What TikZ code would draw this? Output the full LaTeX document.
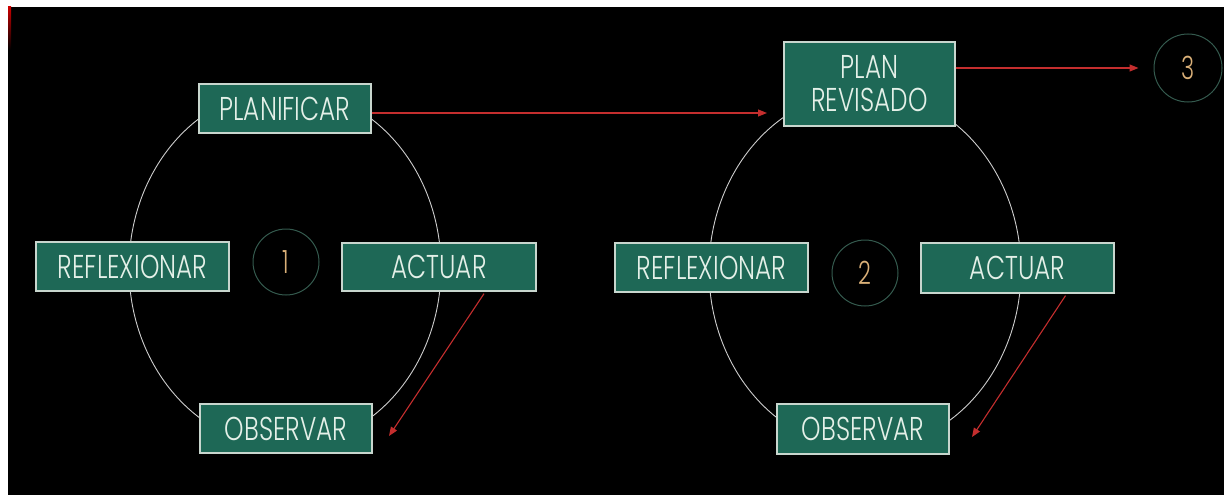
\documentclass[tikz,border=0pt]{standalone}
\usepackage{fontspec}
\usetikzlibrary{arrows.meta}
\newfontfamily\boxfont[FakeStretch=0.75,UprightFont=* Light]{Poppins}
\newfontfamily\numfont[FakeStretch=0.7,UprightFont=* Light]{Poppins}
\definecolor{boxgreen}{RGB}{30,104,86}
\definecolor{boxline}{RGB}{200,214,206}
\definecolor{boxtext}{RGB}{228,240,232}
\definecolor{arrowred}{RGB}{196,46,46}
\definecolor{numtan}{RGB}{218,176,120}
\definecolor{ringcol}{RGB}{52,90,78}
\definecolor{cyclecol}{RGB}{205,205,205}
\begin{document}
\begin{tikzpicture}[x=1pt,y=-1pt,
  stepbox/.style={draw=boxline,line width=1.3pt,fill=boxgreen,text=boxtext,
    inner sep=0pt,font=\boxfont\fontsize{33}{33}\selectfont,align=center},
  ring/.style={circle,draw=ringcol,line width=1pt,inner sep=0pt,
    minimum size=66pt,text=numtan,font=\numfont\fontsize{32}{32}\selectfont},
  cycle/.style={draw=cyclecol,line width=0.9pt},
  redarrow/.style={draw=arrowred,line width=1.1pt,-{Triangle[length=9pt,width=7pt]}}]
\useasboundingbox (0,0) rectangle (1224,495);
\fill[white] (0,0) rectangle (1224,495);
\fill[black] (8,7) rectangle (1224,495);
\shade[top color=red!80!black,bottom color=black] (8,7) rectangle (11,50);
% cycles
\draw[cycle] (285,268) ellipse [x radius=156,y radius=179];
\draw[cycle] (865,270) ellipse [x radius=156,y radius=179];
% cycle 1
\node[stepbox,minimum width=172pt,minimum height=49pt] (plan1) at (285,108.5) {PLANIFICAR};
\node[stepbox,minimum width=193pt,minimum height=49pt] (refl1) at (132.5,266.5) {REFLEXIONAR};
\node[stepbox,minimum width=194pt,minimum height=48pt] (act1) at (439,267) {ACTUAR};
\node[stepbox,minimum width=172pt,minimum height=49pt] (obs1) at (286,428.5) {OBSERVAR};
\node[ring] (n1) at (286,262) {1};
% cycle 2
\node[stepbox,minimum width=171pt,minimum height=84pt] (plan2) at (869.5,84) {PLAN\\REVISADO};
\node[stepbox,minimum width=193pt,minimum height=49pt] (refl2) at (711.5,267.5) {REFLEXIONAR};
\node[stepbox,minimum width=193pt,minimum height=50pt] (act2) at (1017.5,268) {ACTUAR};
\node[stepbox,minimum width=172pt,minimum height=50pt] (obs2) at (863,429) {OBSERVAR};
\node[ring] (n2) at (865,273) {2};
\node[ring,minimum size=68pt] (n3) at (1188,68) {3};
% arrows
\coordinate (a1end) at (767,113);
\draw[redarrow] (plan1.east |- a1end) -- (a1end);
\draw[redarrow,shorten >=15pt] (plan2.east |- n3.west) -- (n3.west);
\coordinate (d1end) at (389,436);
\coordinate (d2end) at (972,437);
\draw[redarrow] ([xshift=45pt,yshift=-2pt]act1.south) -- (d1end);
\draw[redarrow] ([xshift=48pt,yshift=-2pt]act2.south) -- (d2end);
\end{tikzpicture}
\end{document}
